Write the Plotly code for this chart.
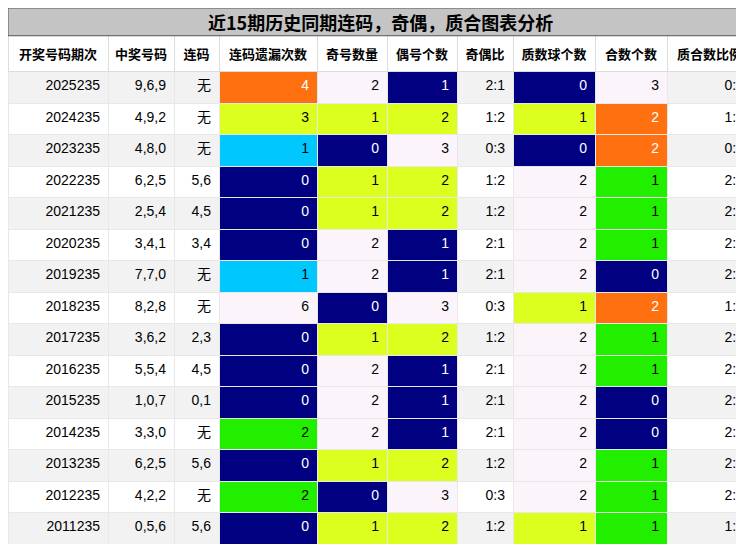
import plotly.graph_objects as go

headers = ['开奖号码期次', '中奖号码', '连码', '连码遗漏次数', '奇号数量', '偶号个数',
           '奇偶比', '质数球个数', '合数个数', '质合数比例']
periods = [2025235 - 1000 * i for i in range(15)]
numbers = ['9,6,9', '4,9,2', '4,8,0', '6,2,5', '2,5,4', '3,4,1', '7,7,0', '8,2,8',
           '3,6,2', '5,5,4', '1,0,7', '3,3,0', '6,2,5', '4,2,2', '0,5,6']
lianma = ['无', '无', '无', '5,6', '4,5', '3,4', '无', '无', '2,3', '4,5', '0,1',
          '无', '5,6', '无', '5,6']
miss = [4, 3, 1, 0, 0, 0, 1, 6, 0, 0, 0, 2, 0, 2, 0]
odd = [2, 1, 0, 1, 1, 2, 2, 0, 1, 2, 2, 2, 1, 0, 1]
even = [1, 2, 3, 2, 2, 1, 1, 3, 2, 1, 1, 1, 2, 3, 2]
oe_ratio = ['2:1', '1:2', '0:3', '1:2', '1:2', '2:1', '2:1', '0:3', '1:2', '2:1',
            '2:1', '2:1', '1:2', '0:3', '1:2']
prime = [0, 1, 0, 2, 2, 2, 2, 1, 2, 2, 2, 2, 2, 2, 1]
composite = [3, 2, 2, 1, 1, 1, 0, 2, 1, 1, 0, 0, 1, 1, 1]
pc_ratio = ['0:3', '1:2', '0:2', '2:1', '2:1', '2:1', '2:0', '1:2', '2:1', '2:1',
            '2:0', '2:0', '2:1', '2:1', '1:1']

NAVY, YG, LIGHT, ORANGE, CYAN, GREEN = '#000080', '#DDFF1F', '#FBF4FB', '#FF7010', '#00C8FF', '#22EE00'
maps = {
    'miss': {0: NAVY, 1: CYAN, 2: GREEN, 3: YG, 4: ORANGE},
    'odd': {0: NAVY, 1: YG},
    'even': {1: NAVY, 2: YG},
    'prime': {0: NAVY, 1: YG},
    'comp': {0: NAVY, 1: GREEN, 2: ORANGE},
}

def fills(vals, m):
    return [m.get(v, LIGHT) for v in vals]

def fonts(vals, m):
    return ['white' if m.get(v, LIGHT) in (NAVY, ORANGE) else 'black' for v in vals]

stripe = ['#F2F2F2' if i % 2 == 0 else 'white' for i in range(15)]
cols = [periods, numbers, lianma, miss, odd, even, oe_ratio, prime, composite, pc_ratio]
fill_cols = [stripe, stripe, stripe, fills(miss, maps['miss']), fills(odd, maps['odd']),
             fills(even, maps['even']), stripe, fills(prime, maps['prime']),
             fills(composite, maps['comp']), stripe]
black = ['black'] * 15
font_cols = [black, black, black, fonts(miss, maps['miss']), fonts(odd, maps['odd']),
             fonts(even, maps['even']), black, fonts(prime, maps['prime']),
             fonts(composite, maps['comp']), black]

fig = go.Figure(go.Table(
    columnwidth=[100, 66, 45, 98, 70, 70, 56, 82, 72, 85],
    header=dict(values=['<b>%s</b>' % h for h in headers], height=36, align='center',
                fill_color='white', line_color='#DDDDDD',
                font=dict(family='Noto Sans CJK SC', size=13, color='black')),
    cells=dict(values=cols, height=31.5, align='right', fill_color=fill_cols,
               line_color='#E8E8E8',
               font=dict(family='Liberation Sans, Noto Sans CJK SC', size=14, color=font_cols)),
    domain=dict(x=[0, 1], y=[0, 0.949]),
))
fig.add_shape(type='rect', xref='paper', yref='paper', x0=0, x1=1, y0=0.949, y1=1,
              fillcolor='#C4C4C4', line=dict(color='#555555', width=1))
fig.add_annotation(text='<b>近15期历史同期连码，奇偶，质合图表分析</b>', xref='paper', yref='paper',
                   x=0.5, y=0.9745, yanchor='middle', showarrow=False,
                   font=dict(family='Noto Sans CJK SC', size=18, color='black'))
fig.update_layout(width=744, height=544, margin=dict(l=0, r=0, t=0, b=0),
                  paper_bgcolor='white')
fig.write_html('out.html')
